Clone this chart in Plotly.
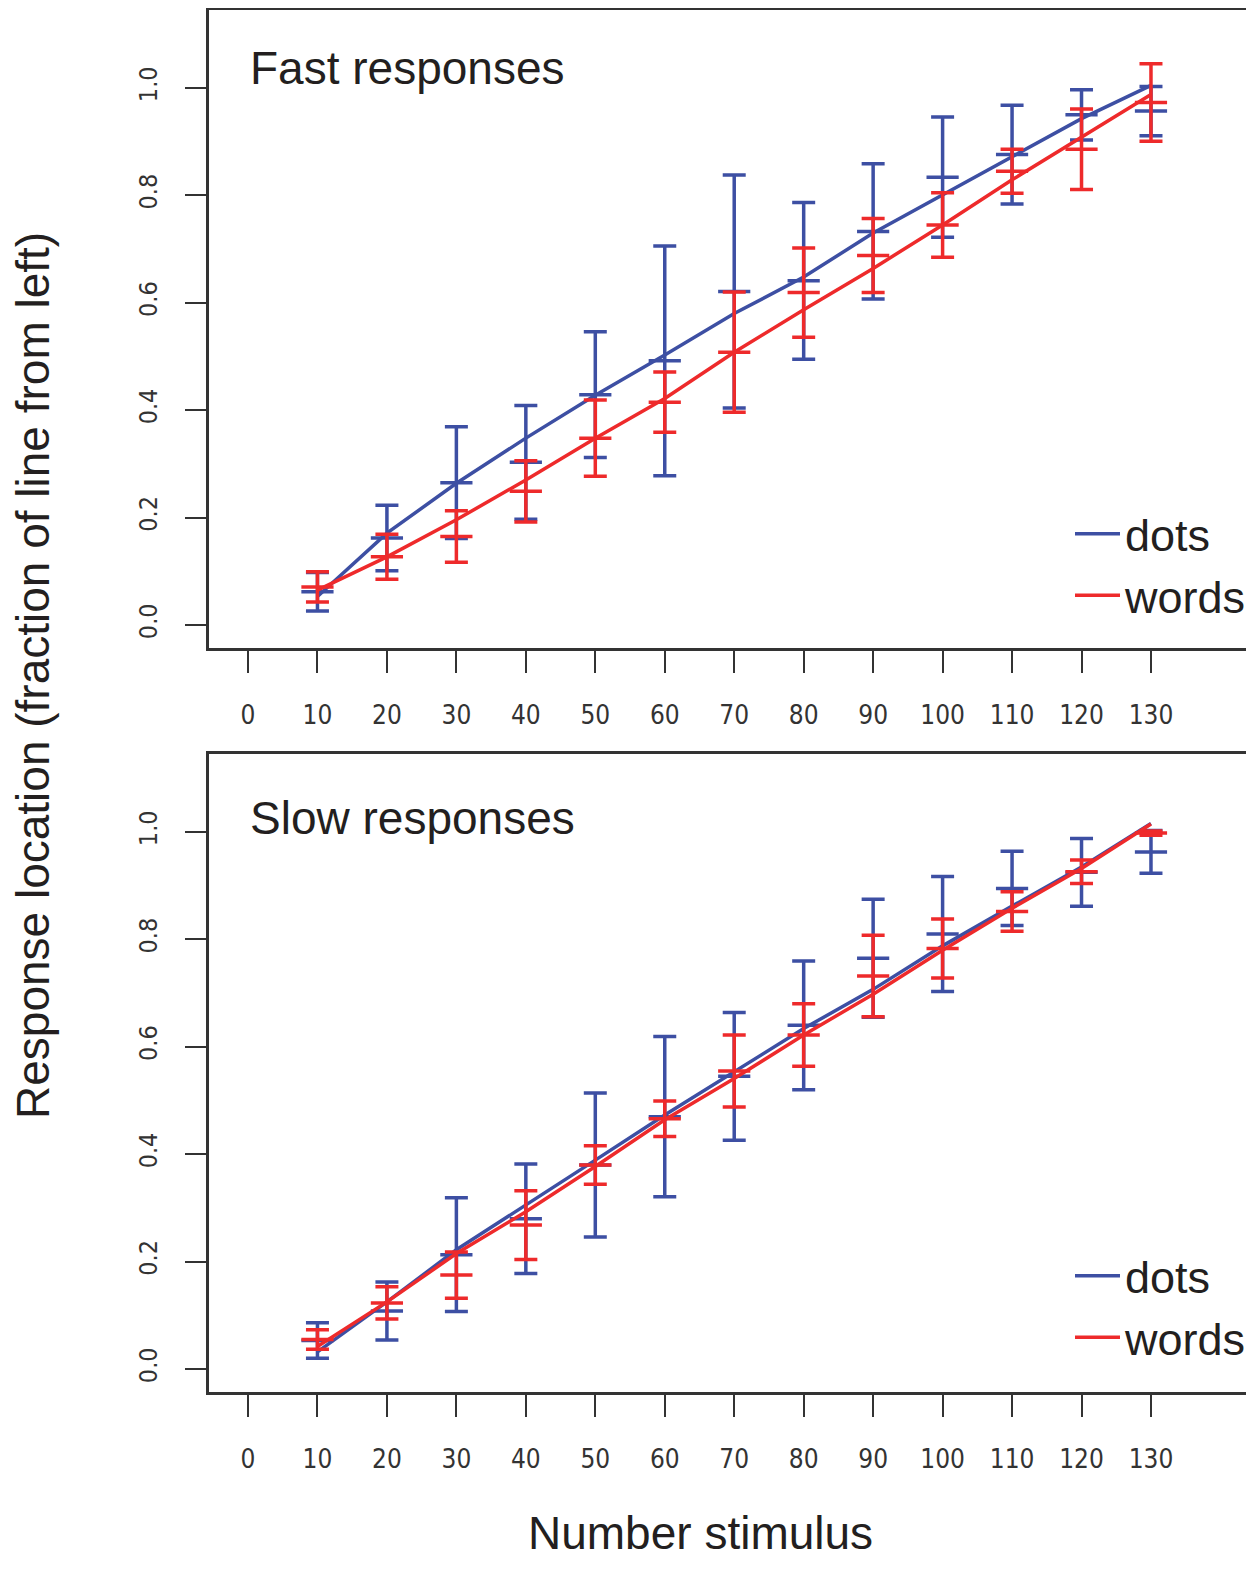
import plotly.graph_objects as go

# ---------------- data ----------------
stimulus = [10, 20, 30, 40, 50, 60, 70, 80, 90, 100, 110, 120, 130]
x_ticks = [0, 10, 20, 30, 40, 50, 60, 70, 80, 90, 100, 110, 120, 130]
y_ticks = [0.0, 0.2, 0.4, 0.6, 0.8, 1.0]
y_tick_labels = ["0.0", "0.2", "0.4", "0.6", "0.8", "1.0"]

# Fast responses
fast_dots_mean = [0.062, 0.162, 0.265, 0.303, 0.429, 0.492, 0.621, 0.641, 0.733, 0.834, 0.876, 0.950, 0.957]
fast_dots_err = [0.036, 0.061, 0.104, 0.106, 0.117, 0.214, 0.217, 0.146, 0.126, 0.112, 0.092, 0.047, 0.046]
fast_dots_fit = [0.053, 0.171, 0.264, 0.348, 0.428, 0.503, 0.580, 0.648, 0.730, 0.801, 0.873, 0.943, 1.005]
fast_words_mean = [0.071, 0.127, 0.165, 0.249, 0.348, 0.415, 0.508, 0.619, 0.688, 0.745, 0.845, 0.886, 0.973]
fast_words_err = [0.028, 0.042, 0.048, 0.057, 0.071, 0.056, 0.112, 0.083, 0.069, 0.060, 0.041, 0.075, 0.072]
fast_words_fit = [0.065, 0.127, 0.196, 0.270, 0.348, 0.422, 0.508, 0.587, 0.664, 0.745, 0.829, 0.908, 0.988]

# Slow responses
slow_dots_mean = [0.053, 0.108, 0.213, 0.280, 0.380, 0.470, 0.545, 0.640, 0.765, 0.810, 0.895, 0.925, 0.963]
slow_dots_err = [0.033, 0.054, 0.106, 0.102, 0.134, 0.149, 0.119, 0.120, 0.110, 0.107, 0.069, 0.063, 0.040]
slow_dots_fit = [0.032, 0.125, 0.222, 0.305, 0.389, 0.473, 0.554, 0.634, 0.707, 0.788, 0.862, 0.935, 1.016]
slow_words_mean = [0.055, 0.123, 0.175, 0.268, 0.380, 0.466, 0.555, 0.622, 0.732, 0.783, 0.852, 0.926, 0.998]
slow_words_err = [0.018, 0.030, 0.043, 0.064, 0.036, 0.033, 0.067, 0.058, 0.076, 0.055, 0.037, 0.022, 0.004]
slow_words_fit = [0.042, 0.125, 0.215, 0.293, 0.377, 0.464, 0.541, 0.622, 0.698, 0.780, 0.858, 0.932, 1.015]

series_names = ["dots", "words"]
panel_titles = ["Fast responses", "Slow responses"]
x_title = "Number stimulus"
y_title = "Response location (fraction of line from left)"

# ---------------- style / layout ----------------
BLUE = "#3D4FA3"
RED = "#EE2A2B"
INK = "#231F20"
AXC = "#333333"
OFF = 8                           # page body margin of the html page
W, H = 1254 - 2 * OFF, 1570 - 2 * OFF   # fit inside the window without overflow
ML, MR, MT = 209 - OFF, 0, 10 - OFF
MB = H - (1392 - OFF)
PW, PH = W - ML - MR, H - MT - MB
LW = 3.5
TXT_FONT = "Liberation Sans, Arial, sans-serif"
TICK_FONT = "DejaVu Sans Condensed, DejaVu Sans, sans-serif"
X0_PX, PX_PER_UNIT = 248, 6.946   # screen position of x=0 and scale


def px2x(px):
    return (px - OFF - ML) / PW


def py2y(py):
    return (H - MB - (py - OFF)) / PH


fig = go.Figure()

panels = [
    ("x", "y", fast_dots_mean, fast_dots_err, fast_dots_fit,
     fast_words_mean, fast_words_err, fast_words_fit, "legend"),
    ("x2", "y2", slow_dots_mean, slow_dots_err, slow_dots_fit,
     slow_words_mean, slow_words_err, slow_words_fit, "legend2"),
]

for xa, ya, dm, de, dfit, wm, we, wfit, leg in panels:
    for name, col, m, e, f in [(series_names[0], BLUE, dm, de, dfit),
                               (series_names[1], RED, wm, we, wfit)]:
        fig.add_trace(go.Scatter(
            x=stimulus, y=m, mode="markers", xaxis=xa, yaxis=ya,
            marker=dict(symbol="line-ew", size=23, color=col,
                        line=dict(width=LW, color=col)),
            error_y=dict(type="data", array=e, visible=True, width=11.5,
                         thickness=LW, color=col),
            showlegend=False, hoverinfo="skip"))
        fig.add_trace(go.Scatter(
            x=stimulus, y=f, mode="lines", xaxis=xa, yaxis=ya, name=name,
            line=dict(color=col, width=LW), legend=leg, showlegend=True))

xr = [(ML + OFF - X0_PX) / PX_PER_UNIT, (W + OFF - X0_PX) / PX_PER_UNIT]
yr = [-0.0428, 1.1453]
top_dom = [py2y(648), py2y(10)]
bot_dom = [py2y(1392), py2y(754)]

xax = dict(range=xr, tickmode="array", tickvals=x_ticks, ticks="outside",
           ticklen=22, tickwidth=2.2, tickcolor=AXC, showline=True, linecolor=AXC,
           linewidth=2.5, mirror=True, showgrid=False, zeroline=False,
           tickfont=dict(family=TICK_FONT, size=26, color=AXC),
           ticklabelstandoff=20, automargin=False)
yax = dict(range=yr, tickmode="array", tickvals=y_ticks, ticktext=y_tick_labels,
           ticks="outside", ticklen=21, tickwidth=2.2, tickcolor=AXC,
           showline=True, linecolor=AXC, linewidth=2.5, mirror=False,
           showgrid=False, zeroline=False, tickangle=-90,
           tickfont=dict(family=TICK_FONT, size=25, color=AXC),
           ticklabelstandoff=18, automargin=False)

leg_common = dict(xanchor="left", yanchor="top", font=dict(size=45, color=INK, family=TXT_FONT),
                  bgcolor="rgba(0,0,0,0)", tracegroupgap=0, itemwidth=45, borderwidth=0)

fig.update_layout(
    width=W, height=H, autosize=False,
    margin=dict(l=ML, r=MR, t=MT, b=MB, pad=0, autoexpand=False),
    paper_bgcolor="white", plot_bgcolor="white",
    font=dict(family=TXT_FONT, color=INK),
    xaxis=dict(xax, domain=[0, 1], anchor="y"),
    yaxis=dict(yax, domain=top_dom, anchor="x"),
    xaxis2=dict(xax, domain=[0, 1], anchor="y2"),
    yaxis2=dict(yax, domain=bot_dom, anchor="x2"),
    legend=dict(leg_common, x=px2x(1070), y=py2y(498)),
    legend2=dict(leg_common, x=px2x(1070), y=py2y(1240)),
)

annos = [
    dict(text=panel_titles[0], x=px2x(248), y=py2y(68), xanchor="left", yanchor="middle"),
    dict(text=panel_titles[1], x=px2x(248), y=py2y(818), xanchor="left", yanchor="middle"),
    dict(text=x_title, x=px2x(700), y=py2y(1533), xanchor="center", yanchor="middle",
         height=40),
    dict(text=y_title, x=px2x(33), y=py2y(676), xanchor="center", yanchor="middle",
         textangle=-90),
]
for a in annos:
    fig.add_annotation(xref="paper", yref="paper", showarrow=False,
                       font=dict(size=46, color=INK, family=TXT_FONT), **a)

fig.write_html("out.html")
